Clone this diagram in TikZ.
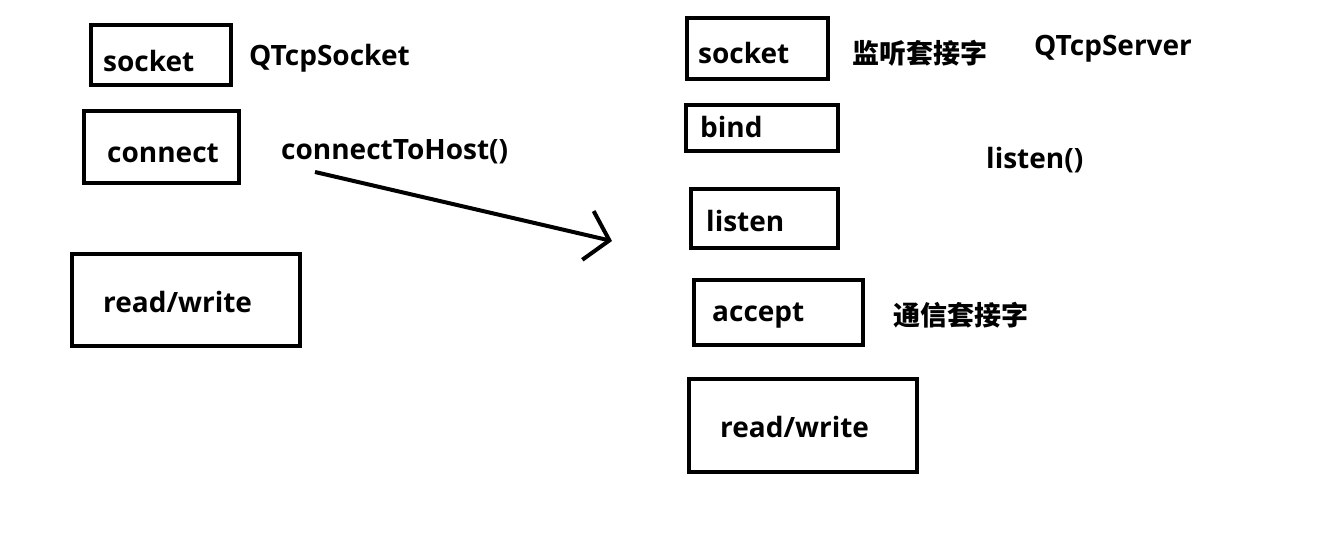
\documentclass[tikz,border=0pt]{standalone}
\usepackage{fontspec}
\setmainfont{Open Sans}
\newfontfamily\cjk{Noto Sans CJK SC}
\usepackage{tikz}
\usetikzlibrary{arrows.meta,positioning}

\tikzset{
  box/.style={draw, line width=4pt, rectangle, inner sep=0pt},
  lbl/.style={anchor=base west, inner sep=0pt, font=\bfseries\fontsize{28}{30}\selectfont},
  cjklbl/.style={lbl, font=\cjk\bfseries\fontsize{27}{29}\selectfont},
}

\begin{document}
\begin{tikzpicture}[x=1pt, y=-1pt]
  \useasboundingbox (0,0) rectangle (1332,533);

  % Client side boxes
  \node[box, minimum width=140pt, minimum height=60pt] (cSocket) at (161,55) {};
  \node[box, minimum width=155pt, minimum height=72pt] (cConnect) at (161.5,147) {};
  \node[box, minimum width=228pt, minimum height=92pt] (cRW) at (186,300) {};

  % Client side texts
  \node[lbl] (cSocketTxt) at (103,71) {socket};
  \node[lbl] (cClass) at (249,65) {QTcpSocket};
  \node[lbl] (cConnectTxt) at (107,162) {connect};
  \node[lbl] (cCall) at (281,159) {connectToHost()};
  \node[lbl] (cRWTxt) at (103,312) {read/write};

  % Server side boxes
  \node[box, minimum width=141pt, minimum height=61pt] (sSocket) at (757.5,48.5) {};
  \node[box, minimum width=152pt, minimum height=46pt] (sBind) at (762,128) {};
  \node[box, minimum width=147pt, minimum height=59pt] (sListen) at (764.5,218.5) {};
  \node[box, minimum width=169pt, minimum height=65pt] (sAccept) at (778.5,312.5) {};
  \node[box, minimum width=228pt, minimum height=93pt] (sRW) at (803,425.5) {};

  % Server side texts
  \node[lbl] (sSocketTxt) at (698,63) {socket};
  \node[cjklbl] (sListenSock) at (852,63) {监听套接字};
  \node[lbl] (sClass) at (1034,55) {QTcpServer};
  \node[lbl] (sBindTxt) at (700,137) {bind};
  \node[lbl] (sCall) at (986,168) {listen()};
  \node[lbl] (sListenTxt) at (706,231) {listen};
  \node[lbl] (sAcceptTxt) at (712,321) {accept};
  \node[cjklbl] (sCommSock) at (893,325) {通信套接字};
  \node[lbl] (sRWTxt) at (720,437) {read/write};

  % Connection arrow
  \coordinate (callStart) at (315,172);
  \coordinate (callEnd) at (612,241);
  \draw[line width=4pt, -{Straight Barb[length=22pt, width=50pt]}] (callStart) -- (callEnd);
\end{tikzpicture}
\end{document}
